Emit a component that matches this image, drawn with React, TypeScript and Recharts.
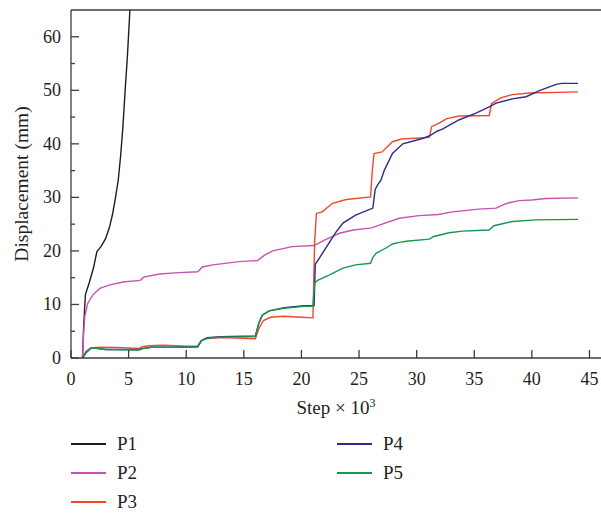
import React from "react";
import { LineChart, Line, XAxis, YAxis, ReferenceLine } from "recharts";

// ---- data (step in thousands, displacement in mm) ----
const p1Steps = [1.0, 1.1, 1.25, 1.6, 1.95, 2.25, 2.6, 3.0, 3.35, 3.6, 3.85, 4.1, 4.3, 4.5, 4.7, 4.9, 5.1, 5.3];
const p1Values = [0, 6, 11.8, 14.2, 16.8, 19.9, 20.8, 22.3, 24.5, 26.8, 29.8, 33.2, 37.6, 43, 50, 56.5, 64.5, 72];

const p2Steps = [1.0, 1.1, 1.2, 1.45, 1.9, 2.5, 3.3, 4.5, 6.0, 6.3, 7.7, 9, 11, 11.4, 12.3, 14.6, 16.2, 16.8, 17.5, 19.2, 21.1, 22.0, 23.3, 24.5, 26.1, 27.0, 28.5, 30.2, 31.9, 33.1, 35.4, 36.9, 37.5, 38.0, 38.9, 40.0, 41.2, 44];
const p2Values = [0, 5, 7.8, 10.2, 11.8, 13.0, 13.6, 14.2, 14.5, 15.1, 15.7, 15.9, 16.1, 17.0, 17.4, 18.0, 18.2, 19.2, 20.0, 20.8, 21.0, 22.0, 23.3, 23.9, 24.3, 25.0, 26.1, 26.6, 26.8, 27.3, 27.8, 28.0, 28.6, 29.0, 29.4, 29.5, 29.8, 29.9];

const p3Steps = [1.0, 1.3, 1.7, 2.5, 4, 5.9, 6.2, 6.8, 8, 10, 11, 11.3, 11.7, 13, 15, 16, 16.3, 16.7, 17.3, 18.5, 20, 21.0, 21.15, 21.3, 21.8, 22.7, 23.9, 26.0, 26.15, 26.3, 27.0, 27.9, 28.7, 31.1, 31.3, 32.0, 32.6, 33.7, 36.3, 36.5, 37.3, 38.3, 39.8, 44.0];
const p3Values = [0, 1.2, 1.9, 2.0, 1.95, 1.8, 2.1, 2.3, 2.4, 2.2, 2.2, 3.2, 3.6, 3.8, 3.7, 3.6, 5.5, 7.0, 7.6, 7.8, 7.6, 7.5, 22, 27.0, 27.3, 28.9, 29.6, 30.1, 35, 38.2, 38.5, 40.4, 40.9, 41.2, 43.2, 43.9, 44.7, 45.2, 45.3, 47.5, 48.6, 49.2, 49.5, 49.7];

const p4Steps = [1.0, 1.3, 1.7, 2.2, 3, 5.9, 6.3, 7, 9, 11, 11.3, 11.8, 13, 16, 16.3, 16.6, 17.2, 18.5, 20, 21.1, 21.2, 21.6, 22.4, 23.0, 23.6, 24.7, 26.2, 26.4, 26.6, 26.9, 27.2, 27.9, 28.8, 30.5, 31.2, 31.8, 32.2, 33.7, 35.1, 36.3, 36.9, 38.3, 39.5, 40.6, 42.1, 42.6, 44];
const p4Values = [0, 1.0, 1.8, 1.8, 1.6, 1.6, 1.8, 2.0, 2.0, 2.1, 3.2, 3.8, 4.0, 4.1, 6.5, 8.0, 8.8, 9.4, 9.7, 9.8, 17.5, 18.8, 21.5, 23.5, 25.2, 26.7, 28.0, 31.5, 32.3, 33.2, 35.1, 38.2, 40.0, 41.0, 41.6, 42.4, 42.7, 44.5, 45.7, 46.9, 47.6, 48.4, 48.8, 49.9, 51.1, 51.3, 51.3];

const p5Steps = [1.0, 1.3, 1.7, 2.2, 3, 5.9, 6.3, 7, 9, 11, 11.3, 11.8, 13, 16, 16.3, 16.6, 17.2, 18.5, 20, 21.0, 21.15, 21.4, 22.4, 23.6, 24.7, 26.0, 26.2, 26.5, 27.3, 27.9, 28.5, 29.1, 31.1, 31.5, 32.8, 34.0, 36.3, 36.7, 38.3, 40.3, 44];
const p5Values = [0, 1.0, 1.8, 1.8, 1.6, 1.5, 1.8, 2.0, 2.0, 2.1, 3.2, 3.7, 3.9, 4.0, 6.5, 8.0, 8.8, 9.3, 9.6, 9.7, 14.0, 14.5, 15.5, 16.8, 17.4, 17.7, 18.8, 19.6, 20.5, 21.3, 21.6, 21.8, 22.2, 22.7, 23.4, 23.7, 23.9, 24.7, 25.5, 25.8, 25.9];

const xTicks = [0, 5, 10, 15, 20, 25, 30, 35, 40, 45];
const yTicks = [0, 5, 10, 15, 20, 25, 30, 35, 40, 45, 50, 55, 60];

const seriesNames = ["P1", "P2", "P3", "P4", "P5"];
const seriesColors = ["#1e1e1e", "#c653b2", "#f2472a", "#2d2a8c", "#12994f"];

const toPoints = (s: number[], v: number[]) => s.map((x, i) => ({ step: x, value: v[i] }));
const series = [
  toPoints(p1Steps, p1Values),
  toPoints(p2Steps, p2Values),
  toPoints(p3Steps, p3Values),
  toPoints(p4Steps, p4Values),
  toPoints(p5Steps, p5Values),
];

const FONT = '"Liberation Serif", "DejaVu Serif", serif';
const TEXT = "#231f20";
const AXIS = "#3c3c3c";

const XTick = (props: any) => {
  const { x, y, payload } = props;
  return (
    <g>
      <line x1={x} x2={x} y1={y} y2={y - 8} stroke={AXIS} strokeWidth={1.3} />
      <text x={x} y={y + 27} textAnchor="middle" fill={TEXT} fontFamily={FONT} fontSize={18}>
        {payload.value}
      </text>
    </g>
  );
};

const YTick = (props: any) => {
  const { x, y, payload } = props;
  const major = payload.value % 10 === 0;
  return (
    <g>
      <line x1={x} x2={x + (major ? 8 : 4)} y1={y} y2={y} stroke={AXIS} strokeWidth={1.3} />
      {major && (
        <text x={x - 10} y={y + 6} textAnchor="end" fill={TEXT} fontFamily={FONT} fontSize={18}>
          {payload.value}
        </text>
      )}
    </g>
  );
};

const XLabel = (props: any) => {
  const vb = props.viewBox;
  return (
    <text x={vb.x + vb.width / 2} y={vb.y + 56} textAnchor="middle" fill={TEXT} fontFamily={FONT} fontSize={19}>
      Step × 10
      <tspan dy={-7} fontSize={12}>3</tspan>
    </text>
  );
};

const YLabel = (props: any) => {
  const vb = props.viewBox;
  const cx = vb.x + 7;
  const cy = vb.y + vb.height / 2;
  return (
    <text x={cx} y={cy} transform={`rotate(-90, ${cx}, ${cy})`} textAnchor="middle" fill={TEXT} fontFamily={FONT} fontSize={19.5}>
      Displacement (mm)
    </text>
  );
};

const legendLayout = [
  { left: 71, top: 444 },
  { left: 71, top: 473 },
  { left: 71, top: 502 },
  { left: 337, top: 444 },
  { left: 337, top: 473 },
];

export default function App() {
  return (
    <div style={{ position: "absolute", left: 0, top: 0, width: 601, height: 513, background: "#fff" }}>
      <LineChart width={601} height={513} margin={{ top: 10, right: 0, left: 21, bottom: 115 }}>
        <XAxis
          type="number"
          dataKey="step"
          domain={[0, 46]}
          ticks={xTicks}
          interval={0}
          allowDataOverflow
          tickSize={0}
          tickMargin={0}
          tickLine={false}
          tick={<XTick />}
          height={40}
          axisLine={{ stroke: AXIS, strokeWidth: 1.3 }}
          label={<XLabel />}
        />
        <YAxis
          type="number"
          dataKey="value"
          domain={[0, 65]}
          ticks={yTicks}
          interval={0}
          allowDataOverflow
          tickSize={0}
          tickMargin={0}
          tickLine={false}
          tick={<YTick />}
          width={50}
          axisLine={{ stroke: AXIS, strokeWidth: 1.3 }}
          label={<YLabel />}
        />
        <ReferenceLine y={65} stroke={AXIS} strokeWidth={1.3} />
        {series.map((d, i) => (
          <Line
            key={seriesNames[i]}
            data={d}
            dataKey="value"
            name={seriesNames[i]}
            type="linear"
            stroke={seriesColors[i]}
            strokeWidth={1.4}
            dot={false}
            activeDot={false}
            isAnimationActive={false}
          />
        ))}
      </LineChart>
      {seriesNames.map((n, i) => (
        <div
          key={n}
          style={{
            position: "absolute",
            left: legendLayout[i].left,
            top: legendLayout[i].top - 12,
            height: 24,
            display: "flex",
            alignItems: "center",
            fontFamily: FONT,
            fontSize: 19,
            color: TEXT,
          }}
        >
          <svg width={35} height={4} style={{ marginRight: 11 }}>
            <line x1={0} x2={35} y1={2} y2={2} stroke={seriesColors[i]} strokeWidth={1.8} />
          </svg>
          <span>{n}</span>
        </div>
      ))}
    </div>
  );
}
